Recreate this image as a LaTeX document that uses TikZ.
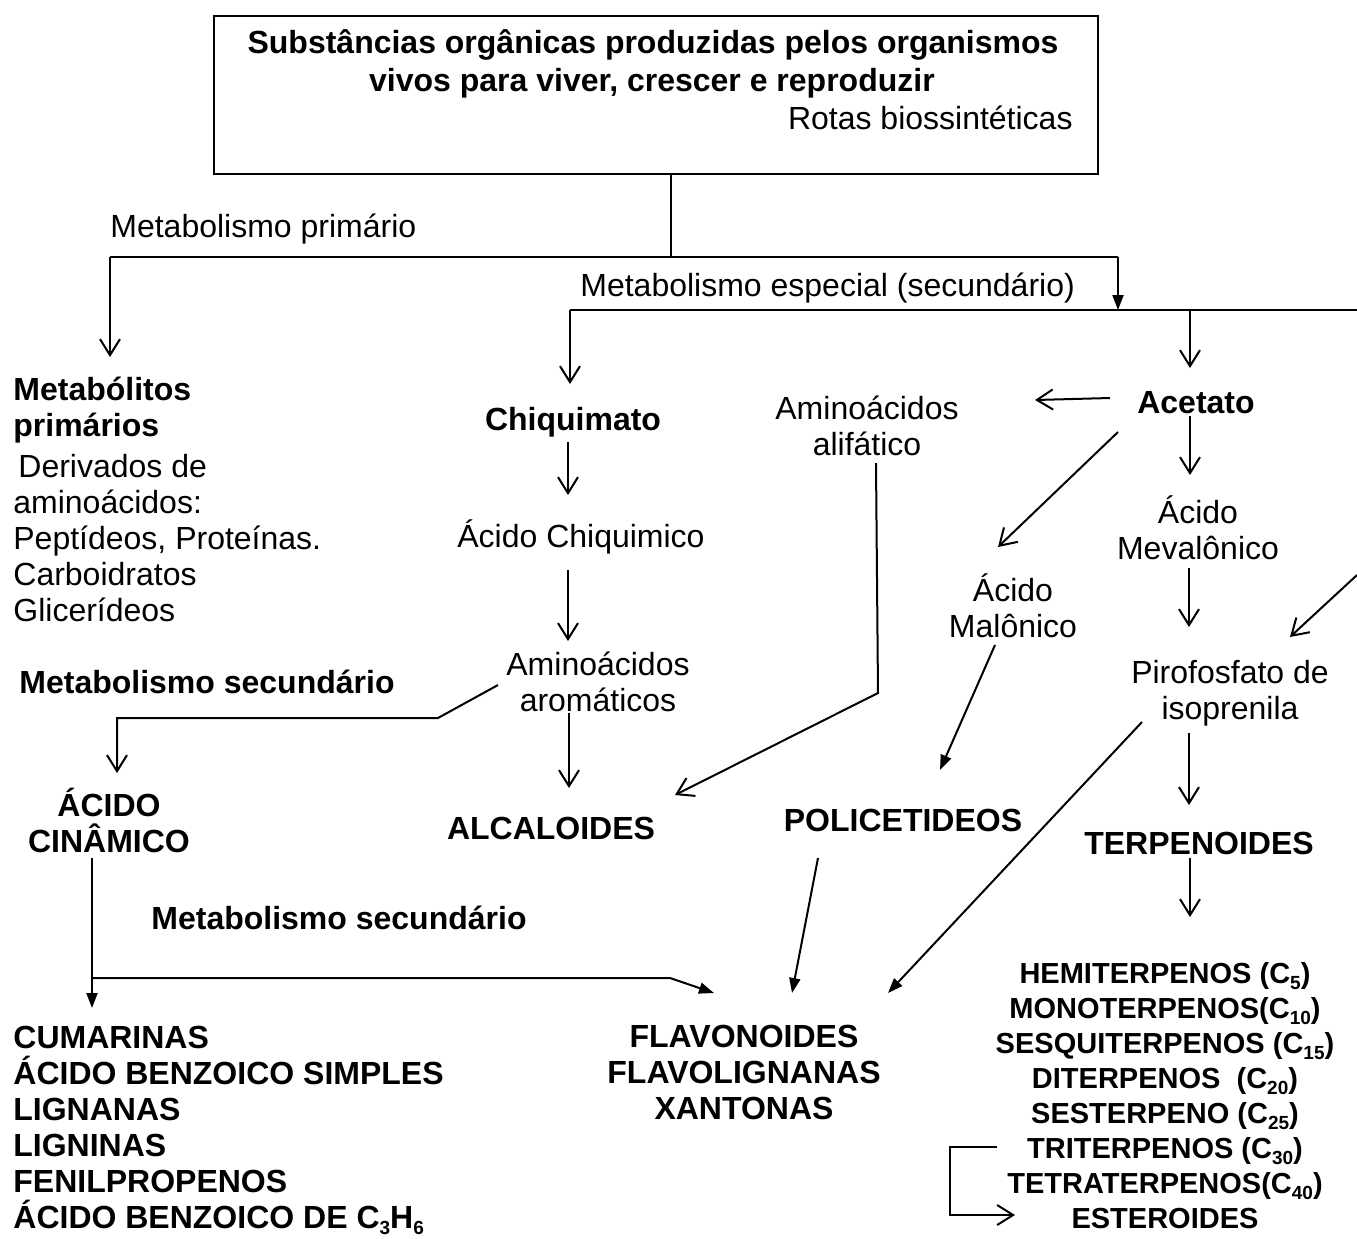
\documentclass[tikz,border=0pt]{standalone}
\usepackage{fontspec}
\setmainfont{Liberation Sans}
\usetikzlibrary{arrows.meta}
\newcommand\sbs[1]{\raisebox{-0.35ex}{\fontsize{9.5}{9.5}\selectfont #1}}
\begin{document}
\begin{tikzpicture}[x=0.5pt,y=-0.5pt,
  every node/.style={font=\fontsize{16}{18}\selectfont, inner sep=0pt},
  ln/.style={line width=1pt},
  op/.style={ln,-{Straight Barb[length=8pt,width=10pt]}},
  fa/.style={ln,-{Triangle[length=7.5pt,width=5.5pt]}},
  bf/.style={font=\fontsize{16}{18}\selectfont\bfseries},
  boxst/.style={draw, line width=1pt, minimum width=442pt, minimum height=79pt, anchor=north west}]
\useasboundingbox (0,0) rectangle (1357,1239);

% top box
\node[boxst] (top) at (213,15) {};
\node[bf] (t1) at (653,45) {Substâncias orgânicas produzidas pelos organismos};
\node[bf] (t2) at (652,83) {vivos para viver, crescer e reproduzir};
\node[anchor=east] (t3) at (1073,118) {Rotas biossintéticas};

% labels
\node[anchor=west] (mprim) at (110,229) {Metabolismo primário};
\node[anchor=west] (mesp) at (580,288) {Metabolismo especial (secundário)};
\node[bf, align=left, anchor=west] (metab) at (13,410) {Metabólitos\\primários};
\node[align=left, anchor=west] (deriv) at (13,538) {\hspace{2.5pt}Derivados de\\aminoácidos:\\Peptídeos, Proteínas.\\Carboidratos\\Glicerídeos};

\node[bf] (chiq) at (573,422) {Chiquimato};
\node (acchiq) at (581,537) {Ácido Chiquimico};
\node[align=center] (aroma) at (598,682) {Aminoácidos\\aromáticos};
\node[bf] (alca) at (551,828) {ALCALOIDES};
\node[align=center] (alif) at (867,426) {Aminoácidos\\alifático};

\node[bf] (acet) at (1196,403) {Acetato};
\node[align=center] (meval) at (1198,528) {Ácido\\Mevalônico};
\node[align=center] (malon) at (1013,606) {Ácido\\Malônico};
\node[align=center] (piro) at (1230,693) {Pirofosfato de\\isoprenila};
\node[bf] (terp) at (1199,843) {TERPENOIDES};
\node[bf] (poli) at (903,820) {POLICETIDEOS};

\node[bf, anchor=west] (ms1) at (19,682) {Metabolismo secundário};
\node[bf, align=center] (cina) at (109,820) {ÁCIDO\\CINÂMICO};
\node[bf, anchor=west] (ms2) at (151,918) {Metabolismo secundário};

\node[bf, align=left, anchor=west] (cuma) at (13,1130) {CUMARINAS\\ÁCIDO BENZOICO SIMPLES\\LIGNANAS\\LIGNINAS\\FENILPROPENOS\\ÁCIDO BENZOICO DE C\sbs{3}H\sbs{6}};
\node[bf, align=center] (flav) at (744,1072) {FLAVONOIDES\\FLAVOLIGNANAS\\XANTONAS};
\node[align=center, font=\fontsize{14.5}{17.5}\selectfont\bfseries] (tlist) at (1165,1096) {HEMITERPENOS (C\sbs{5})\\MONOTERPENOS(C\sbs{10})\\SESQUITERPENOS (C\sbs{15})\\DITERPENOS\ \ (C\sbs{20})\\SESTERPENO (C\sbs{25})\\TRITERPENOS (C\sbs{30})\\TETRATERPENOS(C\sbs{40})\\ESTEROIDES};

% coordinates
\coordinate (j0) at (671,257);
\coordinate (jl) at (110,257);
\coordinate (jr) at (1118,257);
\coordinate (jrt) at (1118,310);
\coordinate (h2l) at (570,310);
\coordinate (h2r) at (1357,310);
\coordinate (h2a) at (1190,310);
\coordinate (edge) at (1357,575);

% connectors
\draw[ln] (top.south -| j0) -- (j0);
\draw[ln] (jl) -- (jr);
\draw[op] (jl) -- (110,357);
\draw[fa] (jr) -- (jrt);
\draw[ln] (h2l) -- (h2r);
\draw[op] (h2l) -- (570,384);
\draw[op] (h2a) -- (1190,368);

\draw[op] (1110,398) -- (1035,400);
\draw[op] (1190,416) -- (1190,475);
\draw[op] (1118,432) -- (998,547);
\draw[op] (1189,568) -- (1189,627);
\draw[fa] (995,645) -- (940,770);
\draw[op] (edge) -- (1290,637);
\draw[op] (1189,733) -- (1189,805);
\draw[fa] (1142,722) -- (888,993);
\draw[op] (1190,858) -- (1190,917);
\draw[op] (997,1147) -- (950,1147) -- (950,1215) -- (1015,1215);

\draw[op] (568,442) -- (568,495);
\draw[op] (568,570) -- (568,641);
\draw[op] (569,713) -- (569,788);
\draw[op] (498,685) -- (438,718) -- (117,718) -- (117,773);
\draw[op] (876,463) -- (878,693) -- (675,795);
\draw[fa] (818,858) -- (792,993);
\draw[fa] (92,858) -- (92,1008);
\draw[fa] (92,978) -- (670,978) -- (714,993);
\end{tikzpicture}
\end{document}
